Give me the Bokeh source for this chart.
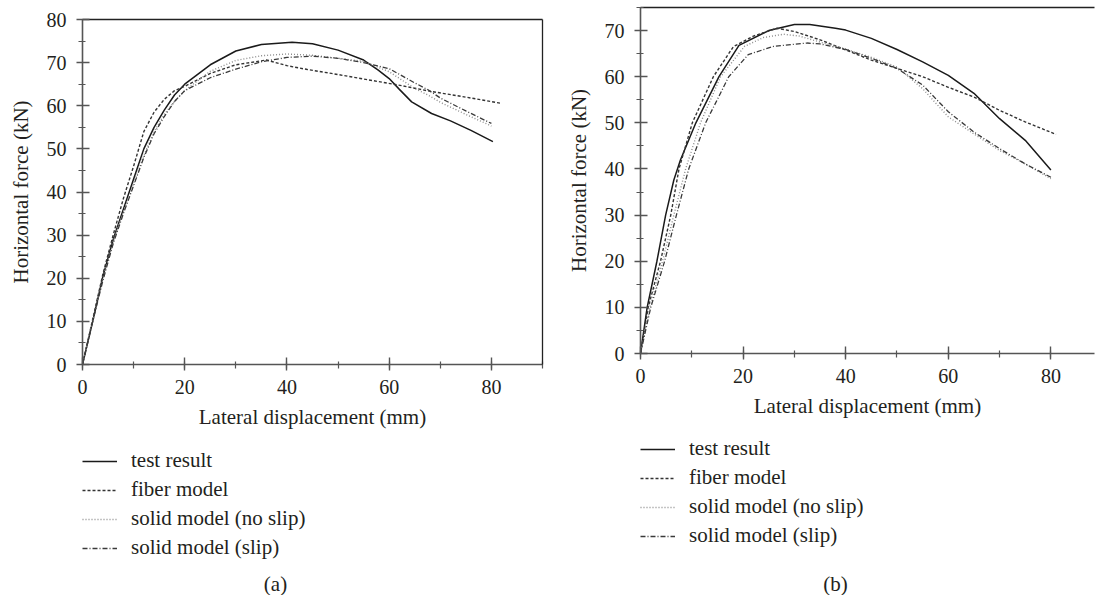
from bokeh.plotting import figure
from bokeh.layouts import row, column
from bokeh.models import (LinearAxis, SingleIntervalTicker, FixedTicker, Range1d,
                          Legend, LegendItem, Label)
from bokeh.embed import file_html
from bokeh.resources import INLINE

# ---------------- data: panel (a) ----------------
a_test_x = [0, 2, 4, 6, 8, 10, 12, 14, 16, 18, 20, 25, 30, 35, 41, 45, 50, 55, 57.8, 60, 62, 64.4, 68.3, 72, 76, 80.3]
a_test_y = [0, 10, 20.5, 29, 36, 43, 50, 55, 59, 62.5, 65, 69.5, 72.7, 74.2, 74.7, 74.4, 72.9, 70.6, 68.3, 66.3, 63.8, 60.9, 58.2, 56.5, 54.3, 51.7]

a_fiber_x = [0, 2, 4, 6, 8, 10, 12, 14, 16, 18, 20, 25, 30, 36, 40, 44, 48.7, 55, 61.8, 68.3, 75, 81.7]
a_fiber_y = [0, 10.5, 21, 30, 38.5, 46, 54, 58.5, 61.5, 63.5, 64.5, 67.5, 69.5, 70.6, 69.3, 68.4, 67.5, 66.2, 64.8, 63.3, 62, 60.6]

a_noslip_x = [0, 2, 4, 6, 8, 10, 12, 14, 16, 18, 20, 25, 30, 35, 40, 45, 50, 55, 60, 65, 67.6, 70, 75, 80]
a_noslip_y = [0, 10, 20, 28.5, 35.5, 42, 48.5, 54, 58, 61, 63.5, 68, 70.5, 71.6, 72, 71.7, 71, 70.3, 67.9, 64, 62.5, 60.8, 58, 55.3]

a_slip_x = [0, 2, 4, 6, 8, 10, 12, 14, 16, 18, 20, 25, 30, 35, 40, 45, 50, 55, 60, 65, 67.6, 70, 75, 80]
a_slip_y = [0, 10, 19.5, 28, 35, 41.5, 48, 53.5, 57.5, 61, 63.5, 66.5, 68.5, 70.2, 71.2, 71.5, 71, 70, 68.6, 65.3, 63.7, 61.8, 58.8, 55.9]

# ---------------- data: panel (b) ----------------
b_test_x = [0, 1.3, 3.2, 4.9, 6.5, 7.8, 10.8, 15.3, 19.2, 25, 30, 33, 38, 40, 45, 50, 55, 60, 65, 70, 75, 80]
b_test_y = [0, 10, 20, 30, 37.6, 42, 50, 60, 66.8, 70, 71.3, 71.3, 70.5, 70.1, 68.3, 65.9, 63.2, 60.3, 56.4, 50.9, 46.2, 39.8]

b_fiber_x = [0, 1.5, 3.9, 5.9, 7.5, 10.1, 14.2, 18.1, 22, 26.6, 30, 35, 40, 45, 50, 55, 60, 65, 70, 75, 81]
b_fiber_y = [0, 10, 20, 30, 40, 50, 60, 66.5, 68.8, 70.5, 69.8, 68, 65.8, 63.6, 61.8, 60, 57.7, 55.6, 52.7, 50.2, 47.5]

b_noslip_x = [0, 1.8, 4.3, 6.5, 8.8, 11.7, 15.6, 20.3, 24, 27.9, 31, 35, 40, 45, 50, 55, 60, 65, 70, 75, 80]
b_noslip_y = [0, 10, 20, 30, 40, 50, 60, 66.6, 68.5, 69.2, 68.8, 67.5, 66, 64.2, 62.1, 57.4, 51.3, 47.6, 44, 41.1, 37.9]

b_slip_x = [0, 2, 4.7, 7, 9.4, 12.7, 17.2, 21, 26, 32.5, 35, 40, 45, 50, 55, 60, 65, 70, 75, 80]
b_slip_y = [0, 10, 20, 30, 40, 50, 60, 64.8, 66.6, 67.3, 67.1, 65.9, 64, 61.8, 58.2, 52.4, 48, 44.4, 41.1, 38.2]

labels = ["test result", "fiber model", "solid model (no slip)", "solid model (slip)"]
x_title = "Lateral displacement (mm)"
y_title = "Horizontal force (kN)"

FONT = "Liberation Serif"
TXT = "#231f20"
AX = "#555555"
FS_TICK = "20px"
FS = "21px"

styles = [
    dict(line_color="#1a1a1a", line_width=1.5, line_dash="solid"),
    dict(line_color="#333333", line_width=1.4, line_dash="3 2"),
    dict(line_color="#8c8c8c", line_width=1.4, line_dash="1 2"),
    dict(line_color="#3a3a3a", line_width=1.3, line_dash="5 2 1 2"),
]


def style_axis(ax, interval, label):
    ax.ticker = SingleIntervalTicker(interval=interval, num_minor_ticks=2)
    ax.axis_label = label
    ax.axis_label_text_font = FONT
    ax.axis_label_text_font_style = "normal"
    ax.axis_label_text_font_size = FS
    ax.axis_label_text_color = TXT
    ax.major_label_text_font = FONT
    ax.major_label_text_font_size = FS_TICK
    ax.major_label_text_color = TXT
    ax.axis_line_color = AX
    ax.axis_line_width = 1.6
    ax.major_tick_line_color = AX
    ax.minor_tick_line_color = AX
    ax.major_tick_line_width = 1.4
    ax.minor_tick_line_width = 1.2
    ax.major_tick_in = 7
    ax.major_tick_out = 6
    ax.minor_tick_in = 3
    ax.minor_tick_out = 4


def frame_axis(p, side):
    ax = LinearAxis(ticker=FixedTicker(ticks=[]), axis_line_color="#222222",
                    axis_line_width=1.3, major_tick_in=0, major_tick_out=0,
                    minor_tick_in=0, minor_tick_out=0,
                    major_label_text_font_size="0px")
    p.add_layout(ax, side)


def make_chart(series, width, height, yr, xr, mb_left, mb_right, mb_top, mb_bottom, right_frame):
    p = figure(width=width, height=height, output_backend="svg", toolbar_location=None,
               x_range=Range1d(*xr), y_range=Range1d(*yr),
               x_axis_type=None, y_axis_type=None,
               min_border_left=mb_left, min_border_right=mb_right,
               min_border_top=mb_top, min_border_bottom=mb_bottom)
    p.outline_line_color = None
    p.xgrid.visible = False
    p.ygrid.visible = False

    xa = LinearAxis()
    style_axis(xa, 20, x_title)
    xa.major_label_standoff = 9
    xa.axis_label_standoff = 8
    p.add_layout(xa, "below")
    ya = LinearAxis()
    style_axis(ya, 10, y_title)
    ya.major_label_standoff = 10
    ya.axis_label_standoff = 11
    p.add_layout(ya, "left")
    frame_axis(p, "above")
    if right_frame:
        frame_axis(p, "right")

    for (xs, ys), st in zip(series, styles):
        p.line(xs, ys, **st)
    return p


def make_key(series, width, height, legend_xy, caption, caption_xy):
    # Separate strip holding the legend key and the panel caption (its frame is
    # aligned with the chart's frame by the column layout). Its ranges lie away
    # from the data, so the series lines show only as legend glyphs.
    k = figure(width=width, height=height, output_backend="svg", toolbar_location=None,
               x_range=Range1d(-200, -100), y_range=Range1d(-200, -100),
               x_axis_type=None, y_axis_type=None,
               min_border_left=0, min_border_right=0, min_border_top=0, min_border_bottom=0)
    k.outline_line_color = None
    k.xgrid.visible = False
    k.ygrid.visible = False
    items = []
    for (xs, ys), lab, st in zip(series, labels, styles):
        r = k.line(xs, ys, **st)
        items.append(LegendItem(label=lab, renderers=[r]))
    lg = Legend(items=items, location=legend_xy, orientation="vertical",
                label_text_font=FONT, label_text_font_size=FS, label_text_color=TXT,
                border_line_color=None, background_fill_alpha=0,
                padding=0, margin=0, glyph_width=35, glyph_height=20,
                label_height=20, spacing=4, label_standoff=14)
    k.add_layout(lg)
    cap = Label(x=caption_xy[0], y=caption_xy[1], x_units="screen", y_units="screen",
                text=caption, text_font=FONT, text_font_size=FS, text_color=TXT,
                text_align="center", text_baseline="middle")
    k.add_layout(cap)
    return k


series_a = [(a_test_x, a_test_y), (a_fiber_x, a_fiber_y),
            (a_noslip_x, a_noslip_y), (a_slip_x, a_slip_y)]
series_b = [(b_test_x, b_test_y), (b_fiber_x, b_fiber_y),
            (b_noslip_x, b_noslip_y), (b_slip_x, b_slip_y)]

pa = make_chart(series_a, width=560, height=440, yr=(0, 80), xr=(0, 90),
                mb_left=82, mb_right=18, mb_top=19, mb_bottom=76, right_frame=True)
ka = make_key(series_a, width=560, height=155, legend_xy=(0, 35),
              caption="(a)", caption_xy=(193, 12))

pb = make_chart(series_b, width=535, height=430, yr=(0, 75), xr=(0, 88.5),
                mb_left=80, mb_right=1, mb_top=7, mb_bottom=77, right_frame=False)
kb = make_key(series_b, width=535, height=165, legend_xy=(0, 47),
              caption="(b)", caption_xy=(195, 12))

layout = row(column(pa, ka), column(pb, kb))
open("out.html", "w").write(file_html(layout, INLINE))
